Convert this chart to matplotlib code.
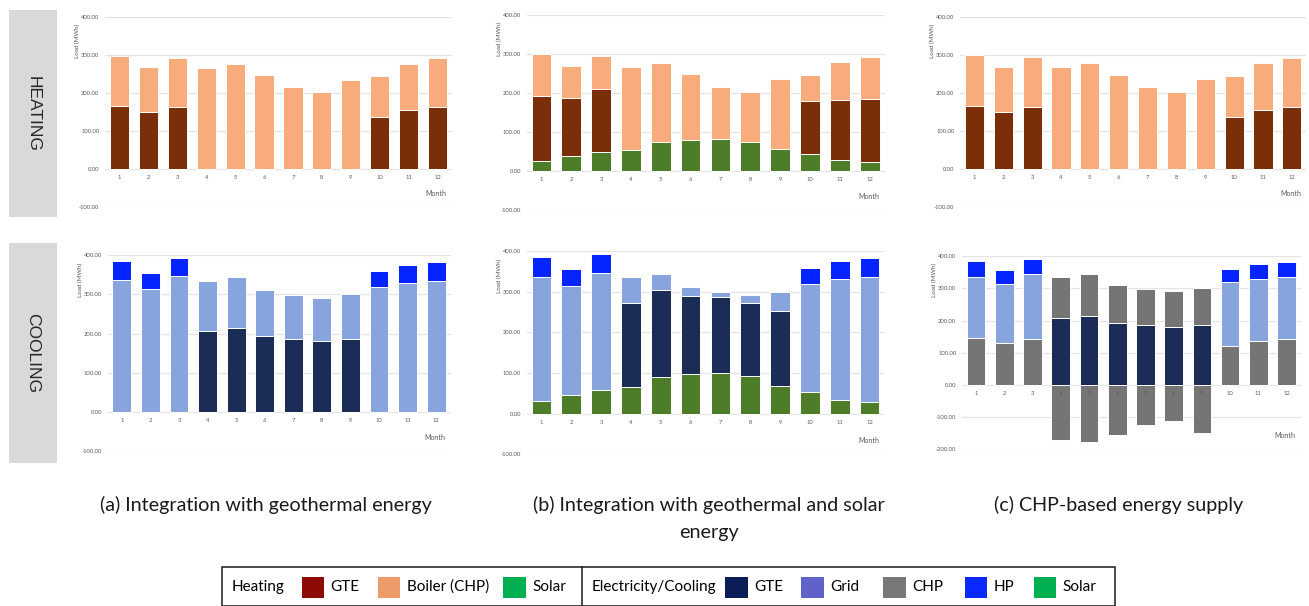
import numpy as np
import matplotlib
matplotlib.use('Agg')
import matplotlib.pyplot as plt
from matplotlib.patches import Rectangle

W, H = 1309, 606
fig = plt.figure(figsize=(W / 100, H / 100), dpi=100)
plt.rcParams['font.family'] = ['Lato', 'DejaVu Sans']

months = np.arange(1, 13)

# heating loads per month (MWh)
heat_total = np.array([299, 268, 293, 267, 277, 247, 216, 202, 235, 245, 278, 292])
heat_gte = np.array([165, 149, 163, 0, 0, 0, 0, 0, 0, 136, 155, 162])
heat_solar = np.array([26, 38, 48, 53, 73, 80, 82, 75, 55, 44, 27, 23])

# electricity / cooling loads per month (MWh)
cool_total = np.array([385, 356, 392, 335, 344, 312, 299, 292, 300, 359, 375, 382])
cool_hp = np.array([48, 43, 46, 0, 0, 0, 0, 0, 0, 39, 45, 47])
cool_gte = np.array([0, 0, 0, 207, 213, 193, 185, 181, 186, 0, 0, 0])
cool_solar = np.array([32, 47, 59, 65, 90, 97, 101, 92, 67, 54, 34, 29])
cool_chp = np.array([147, 131, 144, 128, 131, 119, 114, 111, 114, 120, 137, 143])
chp_surplus = np.array([0, 0, 0, -170, -177, -156, -126, -113, -148, 0, 0, 0])

captions = [['(a) Integration with geothermal energy'],
            ['(b) Integration with geothermal and solar', 'energy'],
            ['(c) CHP-based energy supply']]

c_gte_h = '#7B2F08'
c_boiler = '#F8AC7B'
c_solar = '#4E7D2A'
c_gte_c = '#1B2D57'
c_grid = '#87A5DC'
c_hp = '#0524FF'
c_chp = '#757575'
tick_col = '#595959'


def px_axes(left, right, top, bottom):
    return fig.add_axes([left / W, 1 - bottom / H, (right - left) / W, (bottom - top) / H])


def stack(ax, layers):
    base = np.zeros(12)
    for vals, col in layers:
        vals = np.asarray(vals, float)
        m = vals != 0
        ax.bar(months[m], vals[m], width=0.66, bottom=base[m], color=col,
               edgecolor='white', linewidth=0.7, zorder=2)
        base = base + vals


def style(ax, ymin):
    ax.set_xlim(0.5, 12.5)
    ax.set_ylim(ymin, 400)
    ticks = np.arange(ymin, 401, 100)
    ax.set_yticks(ticks)
    ax.set_yticklabels([f'{t:.2f}' for t in ticks], fontsize=4.2, color=tick_col)
    ax.tick_params(axis='y', length=0, pad=4)
    ax.set_xticks([])
    for s in ax.spines.values():
        s.set_visible(False)
    ax.set_axisbelow(True)
    ax.grid(axis='y', color='#e4e4e4', lw=0.9)
    ax.patch.set_alpha(0)
    for m in months:
        ax.annotate(str(m), (m, 0), xytext=(0, -4.5), textcoords='offset points',
                    ha='center', va='top', fontsize=4.2, color=tick_col, zorder=5)
    ax.text(0.985, 0.07, 'Month', transform=ax.transAxes, ha='right', va='center',
            fontsize=5, color=tick_col)
    ax.annotate('Load (MWh)', (0, 0.875), xycoords='axes fraction', xytext=(-19.5, 0),
                textcoords='offset points', rotation=90, ha='center', va='center',
                fontsize=4.5, color=tick_col)


# heating row
ax = px_axes(105, 452, 17.3, 206.7)
stack(ax, [(heat_gte, c_gte_h), (heat_total - heat_gte, c_boiler)])
style(ax, -100)

ax = px_axes(526.5, 884.6, 14.7, 210)
stack(ax, [(heat_solar, c_solar), (heat_gte, c_gte_h),
           (heat_total - heat_gte - heat_solar, c_boiler)])
style(ax, -100)

ax = px_axes(960, 1306.3, 16.7, 206.7)
stack(ax, [(heat_gte, c_gte_h), (heat_total - heat_gte, c_boiler)])
style(ax, -100)

# cooling row
ax = px_axes(107.5, 450.5, 255.3, 451)
stack(ax, [(cool_gte, c_gte_c), (cool_total - cool_hp - cool_gte, c_grid), (cool_hp, c_hp)])
style(ax, -100)

ax = px_axes(526.5, 884.5, 251, 454.3)
stack(ax, [(cool_solar, c_solar), (cool_gte, c_gte_c),
           (cool_total - cool_hp - cool_gte - cool_solar, c_grid), (cool_hp, c_hp)])
style(ax, -100)

ax = px_axes(962, 1300.6, 256.3, 449.3)
stack(ax, [(cool_gte, c_gte_c), (cool_chp, c_chp),
           (cool_total - cool_hp - cool_gte - cool_chp, c_grid), (cool_hp, c_hp)])
stack(ax, [(chp_surplus, c_chp)])
style(ax, -200)

# overlay in pixel units for row labels, captions and legend
ov = fig.add_axes([0, 0, 1, 1])
ov.set_xlim(0, W)
ov.set_ylim(H, 0)
ov.axis('off')
ov.patch.set_alpha(0)

for label, top, bot in [('HEATING', 10, 217), ('COOLING', 243, 463)]:
    ov.add_patch(Rectangle((9, top), 48, bot - top, color='#d9d9d9', lw=0))
    ov.text(33, (top + bot) / 2, label, rotation=-90, ha='center', va='center',
            fontsize=12.5, color='#262626', family=['Liberation Sans', 'DejaVu Sans'])

for lines, xc in zip(captions, [266, 709, 1119]):
    for k, line in enumerate(lines):
        ov.text(xc, 511 + 27 * k, line, ha='center', va='baseline', fontsize=14.2,
                color='#1a1a1a')

# legend box
ov.add_patch(Rectangle((221.7, 566.7), 1115.3 - 221.7, 606 - 566.7, fill=False,
                       edgecolor='#1a1a1a', lw=1.1))
ov.plot([581.7, 581.7], [566.7, 606], color='#1a1a1a', lw=1.1)

legend_heat = [('GTE', '#8C0C03', 301.7), ('Boiler (CHP)', '#EE9B6A', 377.7),
               ('Solar', '#00B050', 503.3)]
legend_cool = [('GTE', '#0A1D57', 725.3), ('Grid', '#6161CB', 801.4),
               ('CHP', '#787878', 883), ('HP', '#0A29FF', 964.8),
               ('Solar', '#00B050', 1033.6)]

ov.text(231.7, 587, 'Heating', ha='left', va='center', fontsize=11)
ov.text(592, 587, 'Electricity/Cooling', ha='left', va='center', fontsize=11)
for name, col, x0 in legend_heat + legend_cool:
    ov.add_patch(Rectangle((x0, 576.7), 22.5, 21, color=col, lw=0))
    ov.text(x0 + 29, 587, name, ha='left', va='center', fontsize=11)

fig.savefig('out.png', dpi=100)
